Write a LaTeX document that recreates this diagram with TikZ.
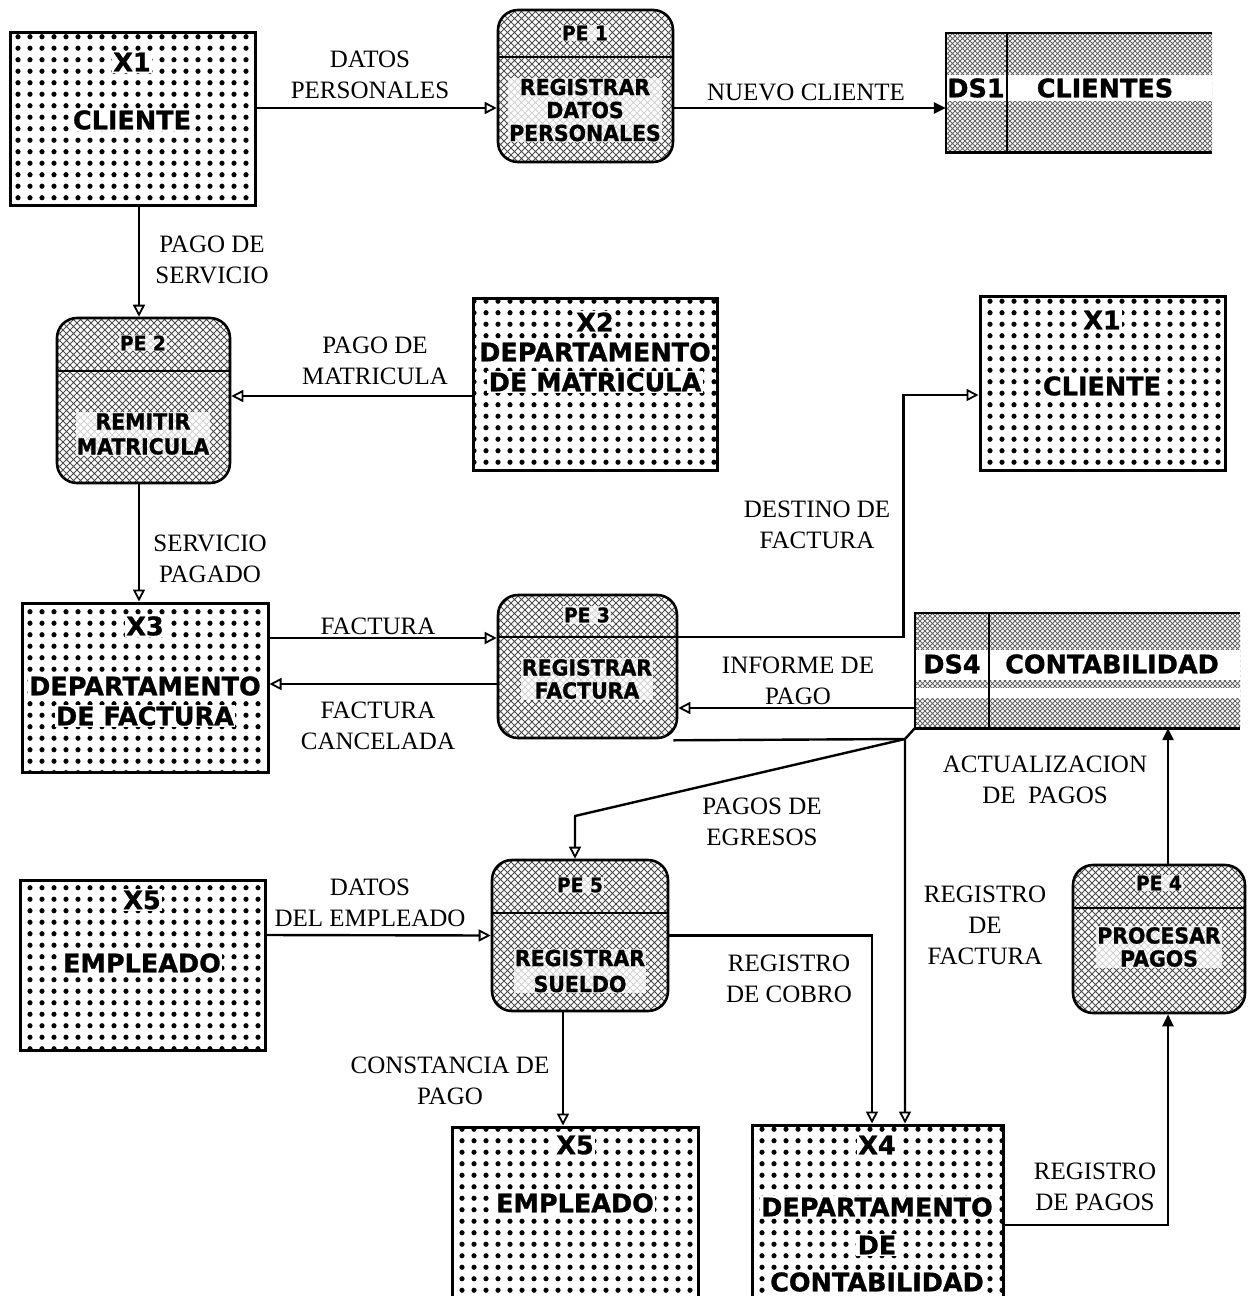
\documentclass[tikz,border=0pt]{standalone}
\usepackage{fontspec}
\setmainfont{Liberation Serif}
\newfontfamily\entfont{DejaVu Sans}[BoldFeatures={FakeBold=1.2}]
\newfontfamily\procfont{DejaVu Sans}[FakeStretch=0.93,BoldFeatures={FakeBold=1.2}]
\usetikzlibrary{arrows.meta,patterns,calc}

% dot grid for external entities
\pgfdeclarepatternformonly{entdots}{\pgfpoint{-1pt}{-1pt}}{\pgfpoint{13pt}{13pt}}{\pgfpoint{12pt}{11.5pt}}{%
  \pgfpathcircle{\pgfpoint{6pt}{5.75pt}}{2.6pt}\pgfusepath{fill}}
% cross-hatch for processes
\pgfdeclarepatternformonly{prochatch}{\pgfpoint{-1pt}{-1pt}}{\pgfpoint{8pt}{8pt}}{\pgfpoint{7pt}{7pt}}{%
  \pgfsetlinewidth{0.9pt}%
  \pgfpathmoveto{\pgfpoint{0pt}{0pt}}\pgfpathlineto{\pgfpoint{7.1pt}{7.1pt}}%
  \pgfpathmoveto{\pgfpoint{0pt}{7pt}}\pgfpathlineto{\pgfpoint{7.1pt}{-0.1pt}}%
  \pgfusepath{stroke}}
% finer cross-hatch for data stores
\pgfdeclarepatternformonly{storehatch}{\pgfpoint{-1pt}{-1pt}}{\pgfpoint{6pt}{6pt}}{\pgfpoint{5pt}{5pt}}{%
  \pgfsetlinewidth{0.8pt}%
  \pgfpathmoveto{\pgfpoint{0pt}{0pt}}\pgfpathlineto{\pgfpoint{5.1pt}{5.1pt}}%
  \pgfpathmoveto{\pgfpoint{0pt}{5pt}}\pgfpathlineto{\pgfpoint{5.1pt}{-0.1pt}}%
  \pgfusepath{stroke}}

\tikzset{
  entity/.style={draw, line width=3pt, pattern=entdots, pattern color=black, inner sep=0pt},
  process/.style={draw, line width=2.6pt, rounded corners=20pt, pattern=prochatch,
    pattern color=black!70, inner sep=0pt},
  store/.style={pattern=storehatch, pattern color=black!60, inner sep=0pt},
  storeline/.style={line width=2.6pt},
  divider/.style={line width=2pt},
  etext/.style={font=\entfont\bfseries\fontsize{25.5}{30}\selectfont,
    fill=white, inner sep=1.5pt},
  ptext/.style={font=\procfont\bfseries\fontsize{22}{23}\selectfont, align=center,
    fill=white, fill opacity=0.75, text opacity=1, inner sep=1pt},
  ptitle/.style={ptext, font=\procfont\bfseries\fontsize{20}{22}\selectfont},
  lbl/.style={font=\fontsize{25}{31}\selectfont, align=center, inner sep=0pt},
  flow/.style={line width=2.4pt, -{Triangle[open,length=12pt,width=12pt,line width=1.8pt]}},
  flowf/.style={line width=2.4pt, -{Triangle[length=12pt,width=11pt]}},
}

\begin{document}
\begin{tikzpicture}[x=1pt,y=-1pt]
\useasboundingbox (0,0) rectangle (1250,1296);
\clip (0,0) rectangle (1250,1296);

% ---------- external entities ----------
\node[entity, minimum width=245pt, minimum height=173pt] (x1a) at (132.5,118.5) {};
\node[etext] at (132,62) {X1};
\node[etext] at (132,120) {CLIENTE};

\node[entity, minimum width=244pt, minimum height=172pt] (x2) at (595,384) {};
\node[etext] at (595,322) {X2};
\node[etext] at (595,352) {DEPARTAMENTO};
\node[etext] at (595,382) {DE MATRICULA};

\node[entity, minimum width=245pt, minimum height=174pt] (x1b) at (1102.5,383) {};
\node[etext] at (1102,320) {X1};
\node[etext] at (1102,386) {CLIENTE};

\node[entity, minimum width=246pt, minimum height=169pt] (x3) at (145,687.5) {};
\node[etext] at (145,626) {X3};
\node[etext] at (145,686) {DEPARTAMENTO};
\node[etext] at (145,716) {DE FACTURA};

\node[entity, minimum width=245pt, minimum height=170pt] (x5a) at (142.5,965) {};
\node[etext] at (142,900) {X5};
\node[etext] at (142,963) {EMPLEADO};

\node[entity, minimum width=246pt, minimum height=183pt] (x5b) at (575,1218.5) {};
\node[etext] at (575,1145) {X5};
\node[etext] at (575,1203) {EMPLEADO};

\node[entity, minimum width=251pt, minimum height=185pt] (x4) at (877.5,1217.5) {};
\node[etext] at (877,1145) {X4};
\node[etext] at (877,1207) {DEPARTAMENTO};
\node[etext] at (877,1245) {DE};
\node[etext] at (877,1282) {CONTABILIDAD};

% ---------- processes ----------
\node[process, minimum width=175pt, minimum height=152pt] (pe1) at (585.5,86) {};
\draw[divider] ([yshift=-48pt]pe1.north west) -- ([yshift=-48pt]pe1.north east);
\node[ptitle] at (585,33) {PE 1};
\node[ptext] at (585,110) {REGISTRAR\\DATOS\\PERSONALES};

\node[process, minimum width=173pt, minimum height=165pt] (pe2) at (143.5,400.5) {};
\draw[divider] ([yshift=-54pt]pe2.north west) -- ([yshift=-54pt]pe2.north east);
\node[ptitle] at (143,343) {PE 2};
\node[ptext, font=\procfont\bfseries\fontsize{22}{25}\selectfont] at (143,434) {REMITIR\\MATRICULA};

\node[process, minimum width=179pt, minimum height=143pt] (pe3) at (587.5,666.5) {};
\draw[divider] ([yshift=-43pt]pe3.north west) -- ([yshift=-43pt]pe3.north east);
\node[ptitle] at (587,615) {PE 3};
\node[ptext] at (587,679) {REGISTRAR\\FACTURA};

\node[process, minimum width=176pt, minimum height=151pt] (pe5) at (580,935.5) {};
\draw[divider] ([yshift=-54pt]pe5.north west) -- ([yshift=-54pt]pe5.north east);
\node[ptitle] at (580,885) {PE 5};
\node[ptext, font=\procfont\bfseries\fontsize{22}{26}\selectfont] at (580,971) {REGISTRAR\\SUELDO};

\node[process, minimum width=172pt, minimum height=148pt] (pe4) at (1159,939) {};
\draw[divider] ([yshift=-44pt]pe4.north west) -- ([yshift=-44pt]pe4.north east);
\node[ptitle] at (1159,883) {PE 4};
\node[ptext] at (1159,947) {PROCESAR\\PAGOS};

% ---------- data stores (open on the right) ----------
\node[store, minimum width=266pt, minimum height=119pt] (ds1) at (1079,92.5) {};
\fill[white] (947,75) rectangle (1212,101);
\draw[storeline] (ds1.north east) -- (ds1.north west) -- (ds1.south west) -- (ds1.south east);
\draw[divider] ([xshift=61pt]ds1.north west) -- ([xshift=61pt]ds1.south west);
\node[etext, fill=none] at (976,88) {DS1};
\node[etext, fill=none] at (1105,88) {CLIENTES};

\node[store, minimum width=325pt, minimum height=115pt] (ds4) at (1077.5,670.5) {};
\fill[white] (916,650) rectangle (1240,680);
\fill[white] (916,688) rectangle (1240,698);
\draw[storeline] (ds4.north east) -- (ds4.north west) -- (ds4.south west) -- (ds4.south east);
\draw[divider] ([xshift=74pt]ds4.north west) -- ([xshift=74pt]ds4.south west);
\node[etext, fill=none] at (952,664) {DS4};
\node[etext, fill=none] at (1112,664) {CONTABILIDAD};

% ---------- junctions ----------
\coordinate (j1) at (905,739);
\coordinate (j2) at (575,816);

% ---------- flows ----------
\draw[flow] ([yshift=10.5pt]x1a.east) -- ([yshift=-22pt]pe1.west);
\node[lbl] at (370,75) {DATOS\\PERSONALES};

\draw[flowf] ([yshift=-22pt]pe1.east) -- ([yshift=-15.5pt]ds1.west);
\node[lbl] at (806,92) {NUEVO CLIENTE};

\draw[flow] ([xshift=6.5pt]x1a.south) -- ([xshift=-4.5pt]pe2.north);
\node[lbl] at (212,260) {PAGO DE\\SERVICIO};

\draw[flow] ([yshift=-12pt]x2.west) -- ([yshift=4.5pt]pe2.east);
\node[lbl] at (375,361) {PAGO DE\\MATRICULA};

\draw[flow] ([xshift=-4.5pt]pe2.south) -- ([xshift=-6pt]x3.north);
\node[lbl] at (210,559) {SERVICIO\\PAGADO};

\draw[flow] ([yshift=49.5pt]x3.east) -- ([yshift=28.5pt]pe3.west);
\node[lbl] at (378,626) {FACTURA};

\draw[flow] ([yshift=-17.5pt]pe3.west) -- ([yshift=3.5pt]x3.east);
\node[lbl] at (378,726) {FACTURA\\CANCELADA};

\draw[flow] ([yshift=29.5pt]pe3.east) -| ([xshift=-75pt,yshift=-12pt]x1b.west)
  -- ([yshift=-12pt]x1b.west);
\node[lbl] at (817,525) {DESTINO DE\\FACTURA};

\draw[flow] ([yshift=-37.5pt]ds4.west) -- ([yshift=-41.5pt]pe3.east);
\node[lbl] at (798,681) {INFORME DE\\PAGO};

\draw[flow] ([xshift=-5pt,yshift=-1pt]pe3.south east) -- (j1) -- ([xshift=27.5pt]x4.north);
\node[lbl] at (985,925) {REGISTRO\\DE\\FACTURA};

\draw[flow] (ds4.south west) -- (j1) -- (j2) -- ([xshift=-5pt]pe5.north);
\node[lbl] at (762,822) {PAGOS DE\\EGRESOS};

\draw[flowf] ([xshift=9pt]pe4.north) -- ([xshift=90.5pt]ds4.south);
\node[lbl] at (1045,780) {ACTUALIZACION\\DE\ \ PAGOS};

\draw[flowf] ([yshift=-7.5pt]x4.east) -| ([xshift=9pt]pe4.south);
\node[lbl] at (1095,1187) {REGISTRO\\DE PAGOS};

\draw[flow] ([yshift=30pt]x5a.east) -- (pe5.west);
\node[lbl] at (370,903) {DATOS\\DEL EMPLEADO};

\draw[flow] (pe5.east) -| ([xshift=-5.5pt]x4.north);
\node[lbl] at (789,979) {REGISTRO\\DE COBRO};

\draw[flow] ([xshift=-17pt]pe5.south) -- ([xshift=-12pt]x5b.north);
\node[lbl] at (450,1081) {CONSTANCIA DE\\PAGO};

\end{tikzpicture}
\end{document}
